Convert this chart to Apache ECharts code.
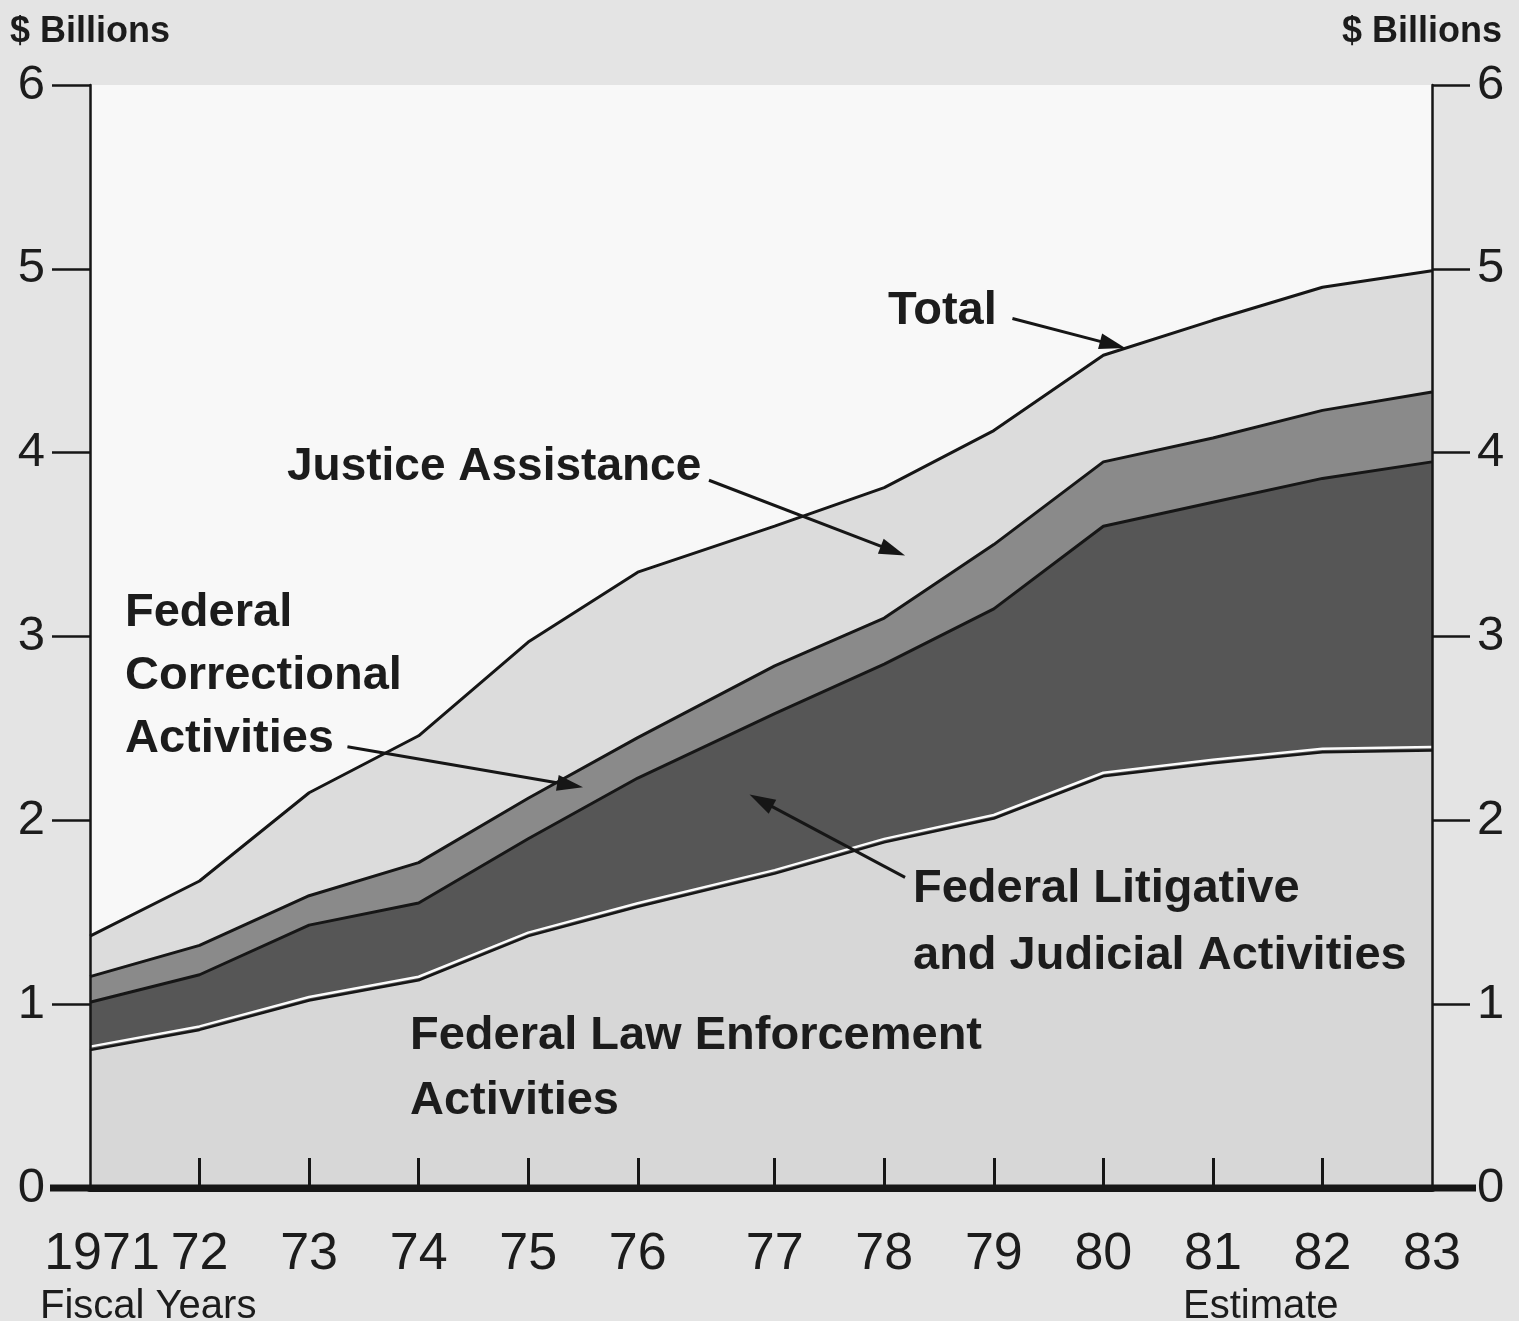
<!DOCTYPE html>
<html>
<head>
<meta charset="utf-8">
<script src="https://cdn.jsdelivr.net/npm/echarts@6/dist/echarts.min.js"></script>
<style>
html, body { margin: 0; padding: 0; background: #e4e4e4; }
#main { width: 1519px; height: 1321px; }
</style>
</head>
<body>
<div id="main"></div>
<script>
// fiscal years, $ billions
var years = [1971, 1972, 1973, 1974, 1975, 1976, 1977, 1978, 1979, 1980, 1981, 1982, 1983];
var yearLabels = ['1971', '72', '73', '74', '75', '76', '77', '78', '79', '80', '81', '82', '83'];
var lawEnforcement    = [0.75, 0.86, 1.02, 1.13, 1.37, 1.53, 1.71, 1.88, 2.01, 2.24, 2.31, 2.37, 2.38];
var litigative        = [0.26, 0.30, 0.41, 0.42, 0.53, 0.70, 0.87, 0.97, 1.14, 1.36, 1.42, 1.49, 1.57];
var correctional      = [0.14, 0.16, 0.16, 0.22, 0.22, 0.22, 0.26, 0.25, 0.35, 0.35, 0.35, 0.37, 0.38];
var justiceAssistance = [0.22, 0.35, 0.56, 0.69, 0.85, 0.90, 0.76, 0.71, 0.62, 0.58, 0.64, 0.67, 0.66];

// transition quarter (1976) widens the gap before FY 1977
function pos(y) { return y >= 1977 ? y + 0.25 : y; }

var dom = document.getElementById('main');
var myChart = echarts.init(dom);
var FONT = '"Liberation Sans", Arial, sans-serif';
var INK = '#161616';

// value first so the stack runs on y (x is a value axis too)
function rows(vals) {
    return years.map(function (y, i) { return [vals[i], pos(y)]; });
}

// filled band, no outline
function areaSeries(name, vals, fill) {
    return {
        name: name,
        type: 'line',
        stack: 'area',
        symbol: 'none',
        encode: { x: 1, y: 0 },
        data: rows(vals),
        lineStyle: { width: 0, opacity: 0 },
        areaStyle: { color: fill, opacity: 1 }
    };
}

// outline of the band top, drawn over all fills
function edgeSeries(name, vals, line) {
    return {
        name: name + ' edge',
        type: 'line',
        stack: 'edge',
        symbol: 'none',
        encode: { x: 1, y: 0 },
        data: rows(vals),
        lineStyle: line
    };
}

var labelFor = {};
years.forEach(function (y, i) { labelFor[pos(y)] = yearLabels[i]; });

var yAxisCommon = {
    type: 'value',
    min: 0,
    max: 6,
    interval: 1,
    z: 10,
    axisLine: { show: true, lineStyle: { color: INK, width: 2.5 } },
    axisTick: { show: true, length: 38, lineStyle: { color: INK, width: 2.5 } },
    axisLabel: { fontSize: 49, color: '#1c1c1c', fontFamily: FONT, margin: 45 },
    splitLine: { show: false }
};

option = {
    backgroundColor: '#e4e4e4',
    animation: false,
    grid: { left: 90, right: 87, top: 85, bottom: 133, show: true, backgroundColor: '#f8f8f8', borderWidth: 0 },
    xAxis: [{
        type: 'value',
        min: 1971,
        max: pos(1983),
        z: 10,
        axisLine: { lineStyle: { color: INK, width: 7 } },
        axisTick: {
            inside: true, length: 30,
            lineStyle: { color: INK, width: 3 },
            customValues: years.slice(1, -1).map(pos)
        },
        axisLabel: {
            customValues: years.map(pos),
            fontSize: 52, color: '#1c1c1c', fontFamily: FONT, margin: 41,
            formatter: function (v) {
                var s = labelFor[v] || '';
                return s === '1971' ? '{first|1971}' : s;
            },
            rich: { first: { fontSize: 52, color: '#1c1c1c', fontFamily: FONT, padding: [0, 0, 0, 24] } }
        },
        splitLine: { show: false }
    }, {
        type: 'value',
        position: 'top',
        min: 1971,
        max: pos(1983),
        z: 10,
        axisLine: { lineStyle: { color: INK, width: 2.5 } },
        axisTick: { show: false },
        axisLabel: { show: false },
        splitLine: { show: false }
    }],
    yAxis: [
        Object.assign({ position: 'left' }, yAxisCommon),
        Object.assign({ position: 'right' }, yAxisCommon)
    ],
    series: [
        areaSeries('Federal Law Enforcement Activities', lawEnforcement, '#d7d7d7'),
        areaSeries('Federal Litigative and Judicial Activities', litigative, '#565656'),
        areaSeries('Federal Correctional Activities', correctional, '#8a8a8a'),
        areaSeries('Justice Assistance', justiceAssistance, '#dcdcdc'),
        edgeSeries('Federal Law Enforcement Activities', lawEnforcement,
            { color: INK, width: 2.5, shadowColor: '#fbfbfb', shadowOffsetY: -3.5, shadowBlur: 0 }),
        edgeSeries('Federal Litigative and Judicial Activities', litigative, { color: INK, width: 3 }),
        edgeSeries('Federal Correctional Activities', correctional, { color: INK, width: 3 }),
        edgeSeries('Justice Assistance', justiceAssistance, { color: INK, width: 3 })
    ]
};

if (option && typeof option === 'object') {
    myChart.setOption(option, true);
}

// annotation arrows, in data units [from, to]
var arrows = [
    { from: [1979.42, 4.73], to: [1980.45, 4.57] },
    { from: [1976.65, 3.85], to: [1978.44, 3.44] },
    { from: [1973.35, 2.40], to: [1975.50, 2.18] },
    { from: [1978.44, 1.69], to: [1977.02, 2.14] }
];

function txt(text, left, top, size, weight, lineHeight, right) {
    var g = {
        type: 'text', top: top, z: 20,
        style: {
            text: text, fill: '#1c1c1c',
            font: weight + ' ' + size + 'px ' + FONT,
            lineHeight: lineHeight || size
        }
    };
    if (right != null) g.right = right; else g.left = left;
    return g;
}

var graphics = [
    txt('$ Billions', 10, 14, 36, 'bold'),
    txt('$ Billions', null, 14, 36, 'bold', null, 17),
    txt('Total', 888, 288, 47, 'bold'),
    txt('Justice Assistance', 287, 444, 46, 'bold'),
    txt('Federal\nCorrectional\nActivities', 125, 582, 47, 'bold', 63),
    txt('Federal Litigative\nand Judicial Activities', 913, 856, 47, 'bold', 67),
    txt('Federal Law Enforcement\nActivities', 410, 1004, 47, 'bold', 65),
    txt('Fiscal Years', 40, 1287, 40, 'normal'),
    txt('Estimate', 1183, 1287, 40, 'normal'),
    // heavy zero line running out to both tick stubs
    { type: 'rect', z: 15, shape: { x: 50, y: 1184.5, width: 1426, height: 7 }, style: { fill: INK } }
];

arrows.forEach(function (a) {
    var p0 = myChart.convertToPixel({ xAxisIndex: 0, yAxisIndex: 0 }, a.from);
    var p1 = myChart.convertToPixel({ xAxisIndex: 0, yAxisIndex: 0 }, a.to);
    var dx = p1[0] - p0[0], dy = p1[1] - p0[1];
    var len = Math.sqrt(dx * dx + dy * dy);
    var ux = dx / len, uy = dy / len;
    var headLen = 26, headW = 8;
    var bx = p1[0] - ux * headLen, by = p1[1] - uy * headLen;
    graphics.push({
        type: 'line', z: 20,
        shape: { x1: p0[0], y1: p0[1], x2: bx + ux * 4, y2: by + uy * 4 },
        style: { stroke: INK, lineWidth: 3 }
    });
    graphics.push({
        type: 'polygon', z: 20,
        shape: { points: [[p1[0], p1[1]], [bx - uy * headW, by + ux * headW], [bx + uy * headW, by - ux * headW]] },
        style: { fill: INK }
    });
});

myChart.setOption({ graphic: graphics });
</script>
</body>
</html>
